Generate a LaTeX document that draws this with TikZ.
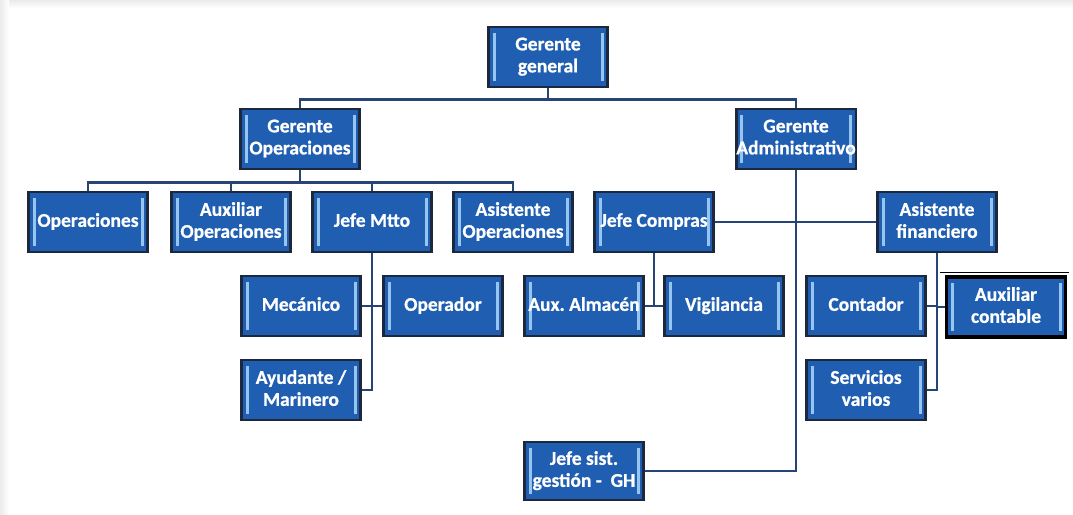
\documentclass[tikz,border=0pt]{standalone}
\usepackage{fontspec}
\setmainfont{Carlito}[BoldFont={Carlito Bold}, BoldFeatures={FakeBold=0.8}]
\usetikzlibrary{calc}
\frenchspacing
\definecolor{boxblue}{RGB}{31,94,176}
\definecolor{boxedge}{RGB}{28,40,62}
\definecolor{barblue}{RGB}{150,198,240}
\definecolor{linkblue}{RGB}{38,68,118}
\newcommand{\boxstrut}{\rule[-4pt]{0pt}{16.4pt}}
\tikzset{
  orgbox/.style={
    draw=boxedge, line width=2.4pt, fill=boxblue,
    minimum width=119pt, minimum height=60pt, inner sep=0pt,
    align=center, text=white,
    font=\fontsize{19.5}{22}\selectfont\bfseries,
    execute at begin node=\boxstrut, execute at end node=\boxstrut,
    path picture={
      \fill[barblue] ([xshift=4pt,yshift=-6pt]path picture bounding box.north west)
        rectangle ([xshift=7pt,yshift=6pt]path picture bounding box.south west);
      \fill[barblue] ([xshift=-4pt,yshift=-6pt]path picture bounding box.north east)
        rectangle ([xshift=-7pt,yshift=6pt]path picture bounding box.south east);
    }
  },
  strongbox/.style={orgbox, draw=black, line width=3.2pt},
  link/.style={draw=linkblue, line width=2.6pt}
}
\begin{document}
\begin{tikzpicture}[x=1pt,y=-1pt]
  \useasboundingbox (0,0) rectangle (1073,514);
  % soft frame along the top and left edges
  \shade[top color=black!8, bottom color=white] (0,0) rectangle (1073,8);
  \shade[left color=black!8, right color=white] (0,0) rectangle (9,514);

  % level 1 and 2
  \node[orgbox] (gg) at (548,57) {Gerente\\general};
  \node[orgbox] (go) at (300,139) {Gerente\\Operaciones};
  \node[orgbox] (ga) at (796,139) {Gerente\\Administrativo};

  % level 3
  \node[orgbox] (ops)  at (88,222)  {Operaciones};
  \node[orgbox] (auxo) at (231,222) {Auxiliar\\Operaciones};
  \node[orgbox] (jm)   at (372,222) {Jefe Mtto};
  \node[orgbox] (asop) at (513,222) {Asistente\\Operaciones};
  \node[orgbox] (jc)   at (654,222) {Jefe Compras};
  \node[orgbox] (af)   at (937,222) {Asistente\\financiero};

  % level 4
  \node[orgbox] (mec)  at (301,306) {Mecánico};
  \node[orgbox] (opr)  at (443,306) {Operador};
  \node[orgbox] (alm)  at (584,306) {Aux. Almacén};
  \node[orgbox] (vig)  at (724,306) {Vigilancia};
  \node[orgbox] (cont) at (866,306) {Contador};
  \node[strongbox] (auxc) at (1006,307) {Auxiliar\\contable};

  % level 5
  \node[orgbox] (ay)   at (301,390) {Ayudante /\\Marinero};
  \node[orgbox] (serv) at (866,390) {Servicios\\varios};
  \node[orgbox, minimum height=58pt] (js) at (584,471) {Jefe sist.\\gestión -~~GH};

  % bar above Auxiliar contable
  \draw[black, line width=1.4pt] ($(auxc.north west)+(-5,-3)$) -- ($(auxc.north east)+(2,-3)$);

  % connectors
  \draw[link] (gg.south) -- ++(0,11) -| (go.north);
  \draw[link] (gg.south) -- ++(0,11) -| (ga.north);

  \draw[link] (go.south) -- ++(0,12) -| (ops.north);
  \draw[link] (go.south) -- ++(0,12) -| (auxo.north);
  \draw[link] (go.south) -- ++(0,12) -| (jm.north);
  \draw[link] (go.south) -- ++(0,12) -| (asop.north);

  \draw[link] (jm.south) |- (mec.east);
  \draw[link] (jm.south) |- (opr.west);
  \draw[link] (jm.south) |- (ay.east);

  \draw[link] (jc.south) |- (alm.east);
  \draw[link] (jc.south) |- (vig.west);

  \draw[link] (af.south) |- (cont.east);
  \draw[link] (af.south) |- (auxc.west);
  \draw[link] (af.south) |- (serv.east);

  \draw[link] (jc.east) -- (af.west);
  \draw[link] (ga.south) |- (js.east);
\end{tikzpicture}
\end{document}
